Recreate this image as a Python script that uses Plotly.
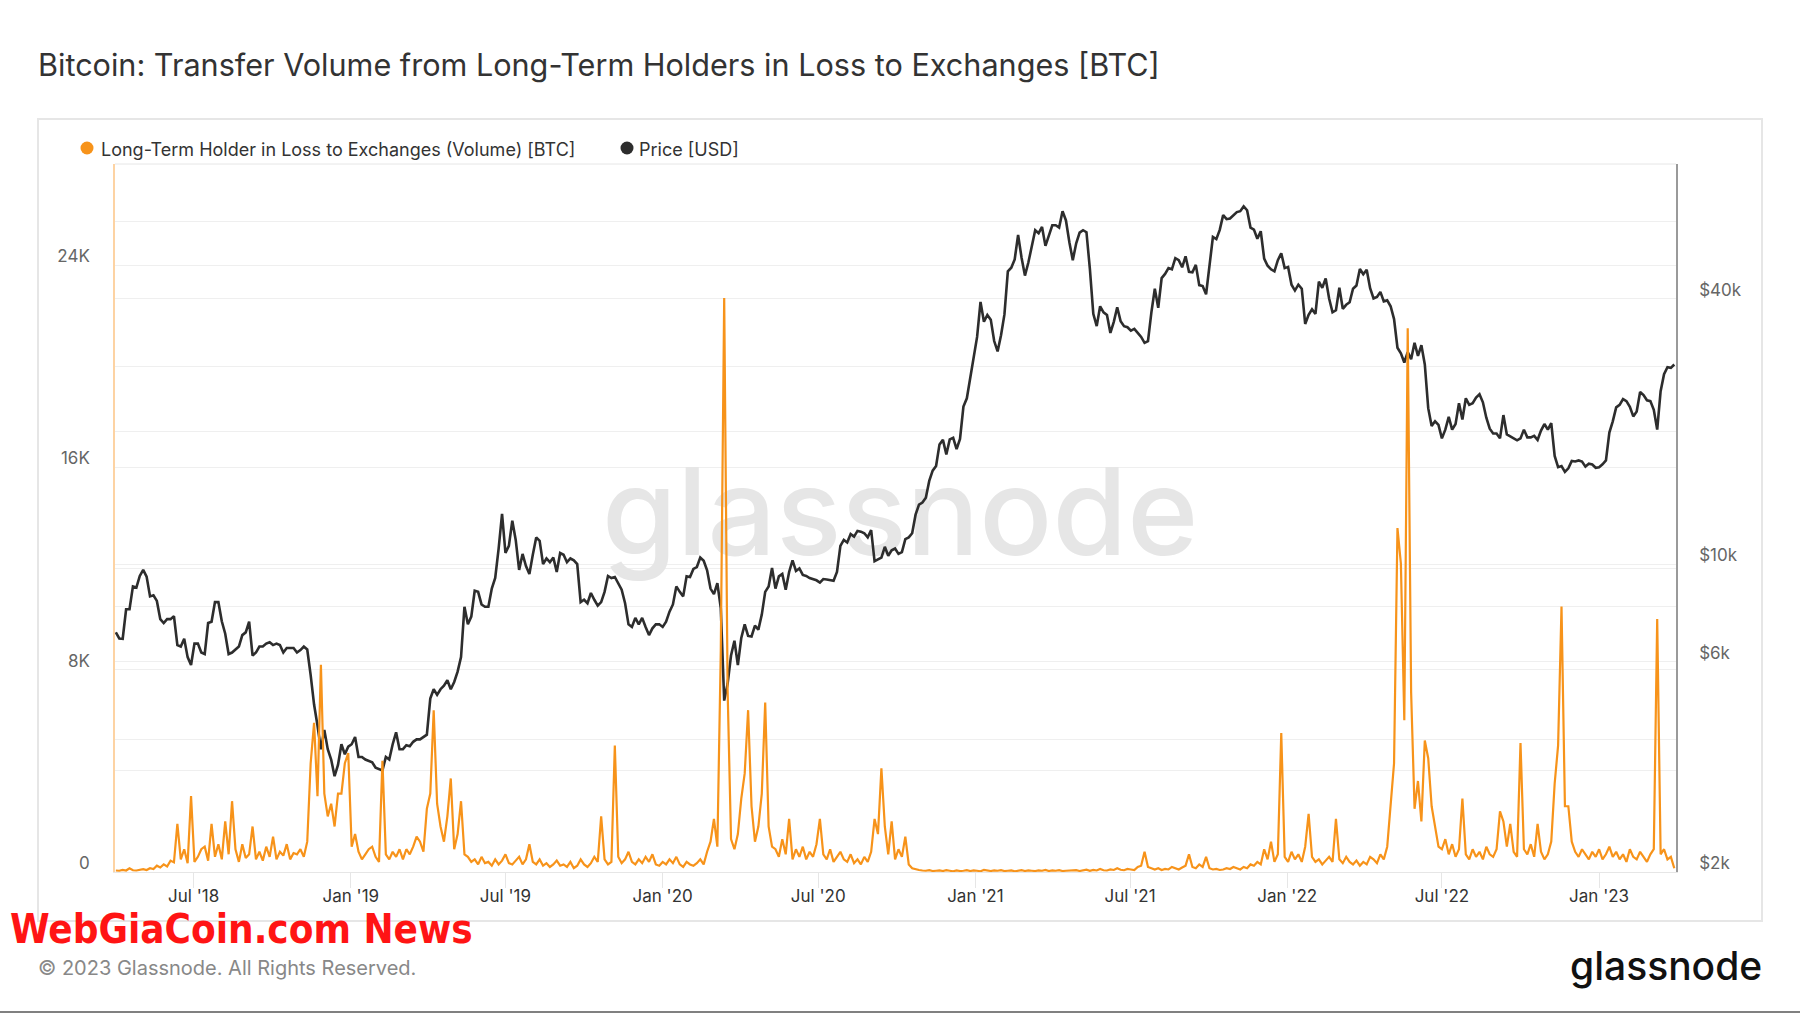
import numpy as np
import pandas as pd
import plotly.graph_objects as go

sample_start = "2018-04-01"
sample_step_days = 4

price_usd = [
    7000, 6780, 6770, 7900, 7900, 8900, 8850, 9400, 9700, 9370, 8450, 8500, 8250, 7500, 7350, 7500,
    7500, 7620, 6550, 6500, 6770, 6150, 5900, 6600, 6600, 6300, 6250, 7350, 7400, 8200, 8200,
    7420, 6950, 6250, 6300, 6400, 6500, 6900, 7000, 7400, 6200, 6300, 6500, 6500, 6600, 6650,
    6550, 6600, 6550, 6300, 6450, 6450, 6450, 6300, 6380, 6500, 6400, 5600, 4800, 4300, 3800,
    4200, 3800, 3600, 3300, 3500, 3900, 3700, 3850,
    3900, 4050, 3650, 3650, 3600, 3580, 3550, 3450, 3420, 3400, 3650, 3600, 3900, 4150, 3800, 3800, 3880, 3860, 3950, 4000, 4000, 4050, 4100,
    4950, 5200, 5050, 5200, 5300, 5450, 5200, 5400, 5700, 6150, 8000, 7300, 7600, 8700, 8650, 8100, 8000, 8000, 8800, 9300, 10850, 13000,
    10600, 11000, 12550, 11350, 9700, 10550, 9900, 9500, 10500, 11500, 11300, 10000, 10300, 10100, 10350, 9600, 10600, 10500, 10100, 10300, 10200, 10000, 8200,
    8300, 8150, 8600, 8300, 8050, 8200, 8650, 9400, 9300, 9350, 9050, 8750, 8150, 7300, 7200, 7550, 7300, 7550, 7200, 6900, 7150, 7300, 7300,
    7200, 7400, 7800, 8100, 8900, 8650, 8450, 9380, 9350, 9750, 9850, 10350, 10180, 9680, 8800, 8550, 9050, 7950, 4900, 5350, 6200, 6700, 5900,
    6800, 7300, 6870, 6850, 7250, 7100, 7680, 8650, 8900, 9800, 8800, 9380, 9500, 8750, 9600, 10200, 9650, 9780, 9450, 9400, 9300, 9250, 9190,
    9080, 9250, 9230, 9200, 9170, 9600, 11000, 11350, 11200, 11700, 11550, 11900, 11850, 11750, 11500, 11950, 10150, 10250, 10350, 10950, 10450, 10750, 10850,
    10550, 10650, 11400, 11500, 11750, 12950, 13650, 13800, 14150, 15450, 16300, 16700, 18700, 19150, 17750, 19200, 19350, 18250, 19250, 22800, 23800, 26500, 28900,
    32800, 39400, 35500, 36800, 35900, 32100, 30400, 33100, 36900, 46200, 47100, 49200, 55900, 49700, 45200, 48400, 52300, 57300, 56400, 58300, 52800, 55900,
    58800, 58800, 58100, 63300, 60300, 53800, 49000, 53500, 56600, 57300, 56700, 46800, 37000, 34700, 38500, 37300, 36800, 33500, 35500, 38300, 35600, 34700, 34500,
    33900, 34200, 33500, 32800, 31800, 32100, 37300, 42200, 38200, 44600, 45600, 47000, 46700, 49500, 49000, 47200, 50000, 46100, 46000, 47800, 43000, 42800, 41000,
    47700, 55300, 54700, 57400, 62000, 60700, 60900, 61900, 63000, 63300, 64900, 63600, 58100, 57500, 54800, 57000, 49400, 47600, 46700, 46200, 49000, 50800, 47000,
    47300, 43100, 41800, 43100, 42200, 35100, 36800, 37900, 37000, 43800, 42400, 44500, 40100, 37300, 37700, 42400, 38000, 38800, 39300, 42200, 42900, 46800, 45500,
    46600, 42300, 40100, 40400, 41500, 39500, 39700, 38500, 36000, 31000, 30100, 28700, 30300, 29200, 31800, 29700, 31400, 28400, 22600, 20600, 21100, 20700,
    19300, 20200, 21600, 20200, 20800, 23200, 21300, 23800, 23000, 23200, 23900, 24300, 23300, 21500, 20300, 19800, 19800, 19300, 21800, 19700, 19500, 19300, 19100,
    19300, 20200, 19400, 19400, 19550, 19150, 20100, 20800, 20200, 20900, 17600, 16600, 16700, 16200, 16500, 17150, 17100, 17200, 17100, 16650, 16900, 16830, 16550,
    16600, 16850, 17200, 19900, 21100, 22700, 23000, 23700, 23450, 22750, 21650, 22200, 24600, 24200, 23550, 23450, 22400, 20200, 24700, 27000, 28000, 27900, 28400,
]

vol_btc = [
    60, 50, 80, 60, 150, 70, 60, 90, 110, 80,
    150, 120, 250, 180, 300, 220, 450, 380, 1900, 500,
    900, 350, 3000, 400, 600, 900, 1000, 450, 1900, 600,
    1100, 500, 2000, 700, 2800, 900, 400, 1100, 550, 700,
    1800, 500, 800, 450, 1000, 600, 1400, 500, 800, 650,
    1100, 500, 750, 700, 900, 600, 1200, 4300, 5900, 3000,
    8200, 3100, 2200, 2700, 1800, 3100, 3100, 4300, 4700, 1000,
    1500, 800, 500, 700, 900, 1000, 600, 400, 4400, 700,
    500, 800, 600, 900, 500, 900, 700, 1000, 1400, 1200,
    800, 2500, 3100, 6400, 2700, 1800, 1200, 2200, 3700, 900,
    1500, 2800, 700, 600, 400, 500, 300, 600, 350, 400,
    250, 500, 300, 450, 700, 350, 300, 450, 600, 300,
    500, 1100, 400, 300, 500, 250, 350, 200, 300, 450,
    250, 300, 200, 400, 150, 250, 500, 300, 200, 350,
    600, 400, 2200, 500, 300, 400, 5000, 600, 350, 500,
    800, 400, 300, 500, 350, 600, 400, 700, 300, 250,
    400, 300, 500, 350, 600, 300, 200, 400, 300, 250,
    350, 500, 300, 800, 1200, 2100, 1000, 8700, 22700, 7200,
    1300, 900, 1500, 2900, 3900, 6400, 2600, 1200, 1800, 3100,
    6700, 1800, 1000, 900, 600, 1300, 700, 2100, 500, 900,
    600, 1000, 500, 800, 600, 1100, 2100, 700, 500, 900,
    400, 600, 800, 500, 400, 700, 350, 500, 300, 600,
    400, 800, 2100, 1500, 4100, 1800, 700, 2000, 500, 900,
    600, 1400, 300, 150, 100, 80, 60, 50, 70, 40,
    50, 60, 40, 70, 50, 30, 60, 40, 50, 70,
    40, 60, 50, 30, 80, 50, 40, 60, 50, 70,
    40, 50, 60, 30, 50, 70, 40, 60, 50, 40,
    60, 50, 80, 40, 60, 50, 70, 40, 50, 60,
    50, 70, 40, 60, 90, 50, 80, 60, 120, 70,
    60, 100, 80, 150, 90, 70, 120, 100, 80, 200,
    250, 800, 200, 150, 100, 150, 80, 120, 100, 200,
    150, 100, 180, 250, 700, 200, 150, 300, 200, 600,
    150, 100, 120, 80, 100, 150, 120, 200, 150, 100,
    200, 150, 300, 250, 400, 300, 900, 500, 1200, 400,
    700, 5500, 600, 400, 800, 500, 700, 400, 1000, 2300,
    600, 400, 500, 300, 450, 600, 400, 2100, 500, 350,
    600, 400, 300, 450, 250, 400, 300, 600, 500, 350,
    700, 500, 1000, 2700, 4300, 13600, 12200, 6000, 21500, 7100,
    2500, 3600, 2000, 5200, 4500, 2600, 1800, 1000, 900, 1300,
    700, 1100, 600, 900, 2900, 700, 500, 900, 600, 800,
    500, 1000, 700, 600, 900, 2400, 2000, 1000, 1900, 800,
    600, 5100, 900, 700, 1100, 600, 1900, 800, 500, 700,
    1200, 3500, 5000, 10500, 2600, 2600, 1200, 800, 600, 900,
    700, 500, 800, 600, 900, 500, 700, 1000, 600, 800,
    500, 700, 400, 900, 600, 500, 800, 600, 400, 700,
    900, 10000, 700, 900, 500, 600, 150,
]

x_tick_dates = ["2018-07-01", "2019-01-01", "2019-07-01", "2020-01-01", "2020-07-01",
                "2021-01-01", "2021-07-01", "2022-01-01", "2022-07-01", "2023-01-01"]
x_tick_labels = ["Jul '18", "Jan '19", "Jul '19", "Jan '20", "Jul '20",
                 "Jan '21", "Jul '21", "Jan '22", "Jul '22", "Jan '23"]

vol_tick_vals = [0, 4000, 8000, 12000, 16000, 20000, 24000, 28000]
vol_tick_text = ["0", "", "8K", "", "16K", "", "24K", ""]

price_tick_vals = [2000, 4000, 6000, 8000, 10000, 20000, 40000, 60000]
price_tick_text = ["$2k", "", "$6k", "", "$10k", "", "$40k", ""]

price_dates = pd.date_range(sample_start, periods=len(price_usd), freq=f"{sample_step_days}D")
vol_dates = pd.date_range(sample_start, periods=len(vol_btc), freq=f"{sample_step_days}D")

# ---------------- layout geometry ----------------
W, H = 1800, 1013
L, R, T, B = 115, 1676, 164, 872
PW, PH = R - L, B - T


def px(xp):
    return (xp - L) / PW


def py(yp):
    return (B - yp) / PH


ORANGE = "#f7931a"
DARK = "#2d2d2d"
FONT = "Inter"

fig = go.Figure()

# watermark (behind the lines)
fig.add_trace(go.Scatter(
    x=["2020-10-05"], y=[12300], mode="text", text=["glassnode"],
    textfont=dict(family=FONT, size=121, color="#e6e6e6", weight=500),
    textposition="middle center", hoverinfo="skip", showlegend=False,
    xaxis="x", yaxis="y",
))

fig.add_trace(go.Scatter(
    x=price_dates, y=price_usd, mode="lines",
    line=dict(color=DARK, width=2.6), name="Price [USD]",
    showlegend=False, xaxis="x", yaxis="y",
))

fig.add_trace(go.Scatter(
    x=vol_dates, y=vol_btc, mode="lines",
    line=dict(color=ORANGE, width=2.2), name="Long-Term Holder in Loss to Exchanges (Volume) [BTC]",
    showlegend=False, xaxis="x", yaxis="y2",
))

tickfont_y = dict(family=FONT, size=17, color="#666666")

fig.update_layout(
    width=W, height=H,
    margin=dict(l=L, r=W - R, t=T, b=H - B, pad=0),
    paper_bgcolor="white", plot_bgcolor="white",
    showlegend=False,
    xaxis=dict(
        type="date", range=["2018-03-31", "2023-04-01"],
        tickvals=x_tick_dates, ticktext=x_tick_labels,
        showgrid=False, zeroline=False,
        ticks="outside", ticklen=15, tickcolor="#e6e6e6", tickwidth=1,
        showline=True, linecolor="#e6e6e6", linewidth=1,
        tickfont=dict(family=FONT, size=17, color="#333333"),
        ticklabelstandoff=-6,
    ),
    yaxis=dict(
        type="log", side="right",
        range=[np.log10(2000), np.log10(81000)],
        tickvals=price_tick_vals, ticktext=price_tick_text,
        showgrid=True, gridcolor="#efefef", gridwidth=1,
        zeroline=False, showline=True, linecolor="#9a9a9a", linewidth=1.5,
        ticks="", tickfont=tickfont_y, ticklabelstandoff=18, ticklabelshift=-9,
    ),
    yaxis2=dict(
        overlaying="y", side="left", range=[0, 28000],
        tickvals=vol_tick_vals, ticktext=vol_tick_text,
        showgrid=True, gridcolor="#efefef", gridwidth=1,
        zeroline=False, showline=True, linecolor="#fdd3a3", linewidth=1.5,
        ticks="", tickfont=tickfont_y, ticklabelstandoff=20, ticklabelshift=-9,
    ),
)

shapes = [
    # outer card border
    dict(type="rect", xref="paper", yref="paper", x0=px(38), x1=px(1762), y0=py(921), y1=py(119),
         line=dict(color="#e6e6e6", width=2), fillcolor="rgba(0,0,0,0)", layer="below"),
    # top border of plot area
    dict(type="line", xref="paper", yref="paper", x0=0, x1=1, y0=1, y1=1,
         line=dict(color="#e6e6e6", width=1)),
    # bottom edge line of the image
    dict(type="line", xref="paper", yref="paper", x0=px(0), x1=px(1800), y0=py(1012), y1=py(1012),
         line=dict(color="#808080", width=2)),
    # legend dots
    dict(type="circle", xref="paper", yref="paper", xsizemode="pixel", ysizemode="pixel",
         xanchor=px(87), yanchor=py(148), x0=-6.5, x1=6.5, y0=-6.5, y1=6.5,
         fillcolor=ORANGE, line=dict(width=0)),
    dict(type="circle", xref="paper", yref="paper", xsizemode="pixel", ysizemode="pixel",
         xanchor=px(627), yanchor=py(148), x0=-6.5, x1=6.5, y0=-6.5, y1=6.5,
         fillcolor=DARK, line=dict(width=0)),
]

annotations = [
    dict(text="Bitcoin: Transfer Volume from Long-Term Holders in Loss to Exchanges [BTC]",
         xref="paper", yref="paper", x=px(36), y=py(65), xanchor="left", yanchor="middle",
         showarrow=False, font=dict(family=FONT, size=30.6, color="#333333")),
    dict(text="Long-Term Holder in Loss to Exchanges (Volume) [BTC]",
         xref="paper", yref="paper", x=px(99), y=py(149), xanchor="left", yanchor="middle",
         showarrow=False, font=dict(family=FONT, size=18, color="#333333")),
    dict(text="Price [USD]",
         xref="paper", yref="paper", x=px(637), y=py(149), xanchor="left", yanchor="middle",
         showarrow=False, font=dict(family=FONT, size=18, color="#333333")),
    dict(text="© 2023 Glassnode. All Rights Reserved.",
         xref="paper", yref="paper", x=px(36), y=py(968), xanchor="left", yanchor="middle",
         showarrow=False, font=dict(family=FONT, size=20, color="#888888")),
    dict(text="glassnode",
         xref="paper", yref="paper", x=px(1764), y=py(965), xanchor="right", yanchor="middle",
         showarrow=False, font=dict(family=FONT, size=39, color="#111111", weight=500)),
    dict(text="WebGiaCoin.com News",
         xref="paper", yref="paper", x=px(8), y=py(929), xanchor="left", yanchor="middle",
         showarrow=False, font=dict(family="DejaVu Sans Condensed", size=40, color="#ff1414", weight=700)),
]

fig.update_layout(shapes=shapes, annotations=annotations)

fig.write_html("out.html")
